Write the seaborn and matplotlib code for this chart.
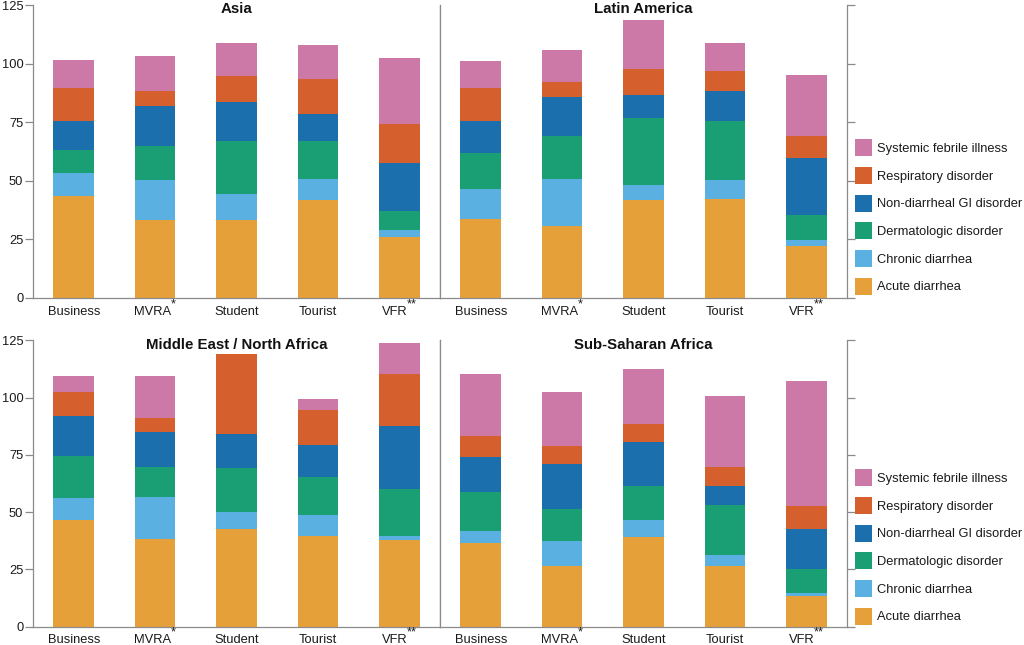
"""Stacked bars of diagnosis shares by traveler type, one panel per region."""

import matplotlib
matplotlib.use('Agg')
import matplotlib.pyplot as plt
import matplotlib.transforms as mtransforms
from matplotlib.patches import Patch
import numpy as np
import pandas as pd
import seaborn as sns

# --- data ---
travelers = ['Business', 'MVRA', 'Student', 'Tourist', 'VFR']
# footnote marks shown as superscripts after some tick labels
footnotes = {'MVRA': '*', 'VFR': '**'}
diagnoses = ['Acute diarrhea', 'Chronic diarrhea', 'Dermatologic disorder',
             'Non-diarrheal GI disorder', 'Respiratory disorder',
             'Systemic febrile illness']
regions = ['Asia', 'Latin America', 'Middle East / North Africa',
           'Sub-Saharan Africa']

asia = [
    [43.4, 33.2, 33.2, 41.7, 26.1],
    [9.8, 17.0, 11.3, 9.2, 2.8],
    [9.9, 14.8, 22.5, 16.1, 8.3],
    [12.6, 16.7, 16.5, 11.3, 20.5],
    [13.9, 6.8, 11.0, 15.2, 16.6],
    [12.1, 14.6, 14.3, 14.4, 28.0],
]
latin_america = [
    [33.9, 30.6, 41.7, 42.3, 22.3],
    [12.5, 20.3, 6.4, 8.2, 2.4],
    [15.3, 18.0, 28.8, 25.2, 10.5],
    [13.6, 16.8, 9.9, 12.8, 24.7],
    [14.1, 6.5, 11.1, 8.2, 9.2],
    [11.5, 13.6, 20.7, 12.0, 25.9],
]
mena = [
    [46.6, 38.3, 42.5, 39.6, 37.6],
    [9.5, 18.2, 7.5, 9.2, 2.0],
    [18.5, 13.0, 19.2, 16.5, 20.7],
    [17.2, 15.3, 15.0, 14.1, 27.4],
    [10.8, 6.5, 35.0, 15.3, 22.6],
    [6.7, 18.4, 0.0, 4.7, 13.5],
]
sub_saharan = [
    [36.7, 26.6, 39.0, 26.6, 13.4],
    [5.2, 10.8, 7.6, 4.6, 1.2],
    [16.8, 13.9, 14.6, 21.9, 10.7],
    [15.3, 19.8, 19.4, 8.2, 17.5],
    [9.3, 7.6, 8.0, 8.3, 9.9],
    [27.0, 23.6, 23.9, 31.2, 54.5],
]

colors = ['#E6A03A', '#5AB0E0', '#1A9E74', '#1B6FAD', '#D5602E', '#CC79A7']
spine_color = '#8a8a8a'
text_color = '#1a1a1a'
font_size = 9.3

# long table
rows = []
for region, table in zip(regions, [asia, latin_america, mena, sub_saharan]):
    for diag, values in zip(diagnoses, table):
        for trav, v in zip(travelers, values):
            rows.append((region, diag, trav, v))
df = pd.DataFrame(rows, columns=['region', 'diagnosis', 'traveler', 'value'])

sns.set_theme(style='white')
plt.rcParams['font.family'] = ['Liberation Sans', 'DejaVu Sans']

fig = plt.figure(figsize=(10.24, 6.45), dpi=100)

# axes boxes in figure fractions
left_x, panel_w = 33 / 1024, 407 / 1024
row_boxes = [((645 - 298) / 645, 293 / 645), ((645 - 626.5) / 645, 286 / 645)]

axes = []
for bottom, height in row_boxes:
    for c in range(2):
        axes.append(fig.add_axes([left_x + c * panel_w, bottom, panel_w, height]))


def draw_panel(ax, region, side):
    sub = df[df['region'] == region]
    base = np.zeros(len(travelers))
    for diag, col in zip(diagnoses, colors):
        part = sub[sub['diagnosis'] == diag].set_index('traveler').loc[travelers]
        sns.barplot(data=part.reset_index(), x='traveler', y='value',
                    order=travelers, color=col, width=0.5, bottom=base,
                    errorbar=None, linewidth=0, saturation=1, ax=ax)
        base = base + part['value'].to_numpy()

    ax.set_xlim(-0.5, 4.5)
    ax.set_ylim(0, 125)
    ax.set_xlabel('')
    ax.set_ylabel('')
    ax.set_xticks(range(len(travelers)), travelers)
    ax.set_yticks([0, 25, 50, 75, 100, 125])
    ax.tick_params(axis='x', length=0, pad=5.5, labelsize=font_size,
                   colors=text_color)
    ax.tick_params(axis='y', length=6, width=0.9, color=spine_color, pad=1,
                   labelsize=font_size, labelcolor=text_color)
    for name in ['left', 'right', 'bottom']:
        ax.spines[name].set_visible(True)
        ax.spines[name].set_color(spine_color)
        ax.spines[name].set_linewidth(0.9)
    ax.spines['top'].set_visible(False)
    if side == 'left':
        ax.yaxis.set_ticks_position('left')
    else:
        ax.yaxis.set_ticks_position('right')
        ax.tick_params(axis='y', labelright=False, labelleft=False)

    # superscript footnote marks; label + mark centred together under the bar
    for lab in ax.get_xticklabels():
        mark = footnotes.get(lab.get_text())
        if mark:
            shift = 0.389 * font_size * len(mark) / 2
            lab.set_transform(lab.get_transform() + mtransforms.ScaledTranslation(
                -shift / 72, 0, fig.dpi_scale_trans))
            ax.annotate(mark, xy=(1.0, 1.0), xycoords=lab, xytext=(0, 5.5),
                        textcoords='offset points', ha='left', va='top',
                        fontsize=font_size, color=text_color,
                        annotation_clip=False)

    ax.text(0.5, 0.972, region, transform=ax.transAxes, ha='center',
            va='baseline', fontsize=10.8, fontweight='bold', color='#111111')


for ax, region, side in zip(axes, regions, ['left', 'right', 'left', 'right']):
    draw_panel(ax, region, side)

# legends, one per row, top entry = top of the stack
handles = [Patch(facecolor=c, edgecolor='none') for c in colors][::-1]
labels = diagnoses[::-1]
for y in [1 - 217 / 645, 1 - 547 / 645]:
    fig.legend(handles, labels, loc='center left', bbox_to_anchor=(855 / 1024, y),
               frameon=False, fontsize=font_size, borderpad=0, borderaxespad=0,
               handlelength=1.32, handleheight=1.65, handletextpad=0.4,
               labelspacing=0.82, labelcolor=text_color)

plt.savefig('out.png', dpi=100)
